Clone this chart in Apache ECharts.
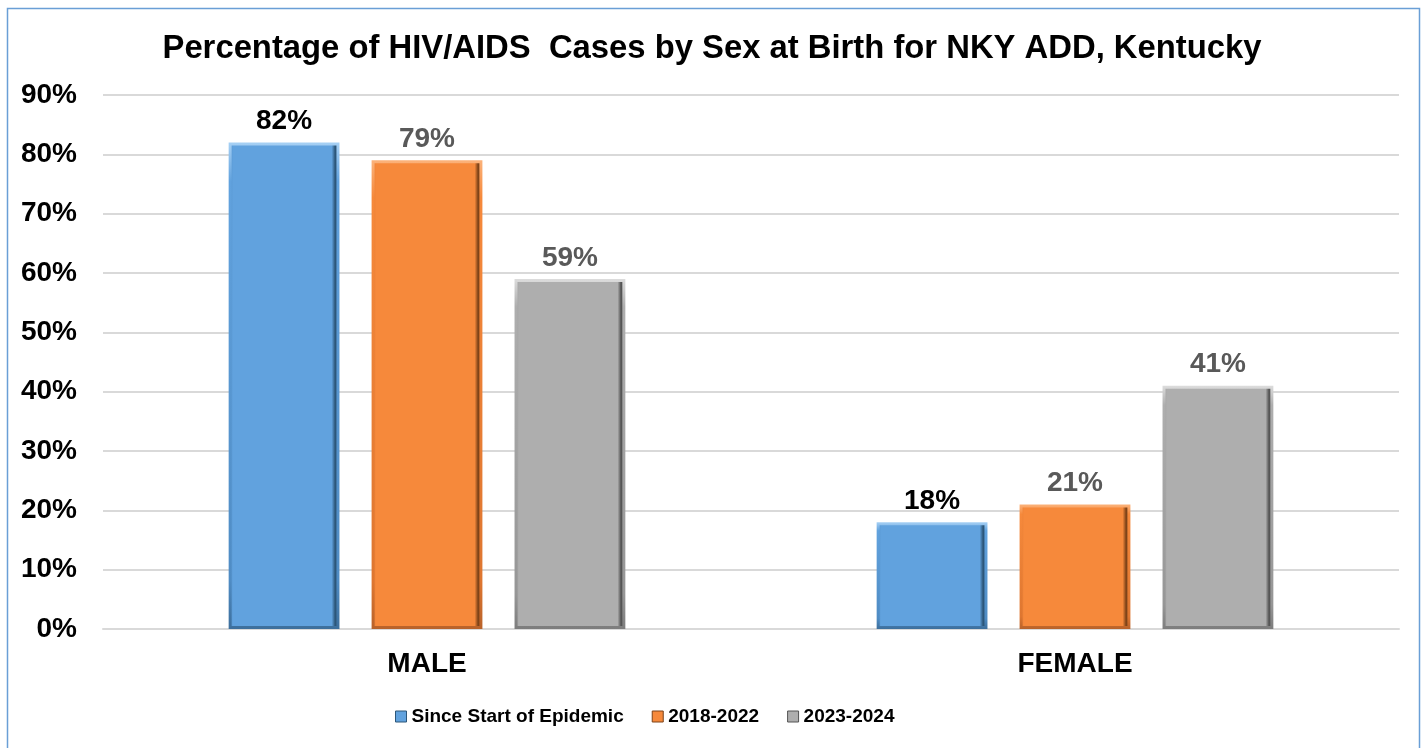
<!DOCTYPE html>
<html>
<head>
<meta charset="utf-8">
<script src="https://cdn.jsdelivr.net/npm/echarts@6/dist/echarts.min.js"></script>
<style>
html,body{margin:0;padding:0;background:#fff;}
#chart{width:1424px;height:748px;}
</style>
</head>
<body>
<div id="chart"></div>
<script>
const titleText = 'Percentage of HIV/AIDS  Cases by Sex at Birth for NKY ADD, Kentucky';
const categories = ['MALE', 'FEMALE'];
const seriesNames = ['Since Start of Epidemic', '2018-2022', '2023-2024'];
const sinceStart = [82, 18];
const period2018 = [79, 21];
const period2023 = [59, 41];
const yTicks = [0, 10, 20, 30, 40, 50, 60, 70, 80, 90];

const FONT = '"Liberation Sans", Arial, sans-serif';

const colors = [
  {base: '#61a2de', dark: '#2c5679', edge: '#4f8cc4', light: '#a6d0f4', bottom: '#3d6f9c'},
  {base: '#f6893b', dark: '#7e4318', edge: '#de7630', light: '#fbb27a', bottom: '#b8622a'},
  {base: '#aeaeae', dark: '#555555', edge: '#969696', light: '#dcdcdc', bottom: '#7d7d7d'}
];

function fillGrad(c) {
  return new echarts.graphic.LinearGradient(0, 0, 1, 0, [
    {offset: 0, color: c.edge},
    {offset: 0.04, color: c.base},
    {offset: 0.93, color: c.base},
    {offset: 0.96, color: c.dark},
    {offset: 1, color: c.dark}
  ]);
}
function borderGrad(c) {
  return new echarts.graphic.LinearGradient(0, 0, 0, 1, [
    {offset: 0, color: c.light},
    {offset: 0.08, color: c.base},
    {offset: 0.9, color: c.edge},
    {offset: 1, color: c.bottom}
  ]);
}

const labelColors = ['#000000', '#595959', '#595959'];
const dataSets = [sinceStart, period2018, period2023];

const chart = echarts.init(document.getElementById('chart'), null, {renderer: 'canvas'});

const series = dataSets.map((d, i) => ({
  name: seriesNames[i],
  type: 'bar',
  data: d,
  barWidth: '17.1%',
  barGap: '29%',
  itemStyle: {
    color: fillGrad(colors[i]),
    borderColor: borderGrad(colors[i]),
    borderWidth: 3
  },
  label: {
    show: true,
    position: 'top',
    distance: 7,
    formatter: p => p.value + '%',
    fontFamily: FONT,
    fontWeight: 'bold',
    fontSize: 28,
    color: labelColors[i]
  }
}));

chart.setOption({
  animation: false,
  backgroundColor: '#ffffff',
  color: colors.map(c => c.base),
  title: {
    text: titleText,
    left: 'center',
    top: 27,
    textStyle: {fontFamily: FONT, fontWeight: 'bold', fontSize: 32.8, color: '#000'}
  },
  graphic: [{
    type: 'rect',
    shape: {x: 7.5, y: 8.5, width: 1412, height: 780},
    style: {fill: 'none', stroke: '#6a9fd6', lineWidth: 1.5},
    silent: true
  }],
  legend: {
    data: seriesNames.map((n, i) => ({name: n, itemStyle: {color: fillGrad(colors[i]), borderColor: colors[i].dark, borderWidth: 1}})),
    bottom: 17,
    left: 390,
    icon: 'rect',
    itemWidth: 11,
    itemHeight: 11,
    itemGap: 28,
    textStyle: {fontFamily: FONT, fontWeight: 'bold', fontSize: 19, color: '#000'}
  },
  grid: {left: 103, right: 25, top: 95, bottom: 119},
  xAxis: {
    type: 'category',
    data: categories,
    axisLine: {show: true, lineStyle: {color: '#d9d9d9', width: 2}},
    axisTick: {show: false},
    axisLabel: {fontFamily: FONT, fontWeight: 'bold', fontSize: 28, color: '#000', margin: 21}
  },
  yAxis: {
    type: 'value',
    min: 0,
    max: 90,
    interval: 10,
    axisLine: {show: false},
    axisTick: {show: false},
    splitLine: {lineStyle: {color: '#d9d9d9', width: 2}},
    axisLabel: {
      fontFamily: FONT, fontWeight: 'bold', fontSize: 28, color: '#000', margin: 26,
      formatter: v => yTicks.indexOf(v) >= 0 ? v + '%' : ''
    }
  },
  series: series
});
</script>
</body>
</html>
